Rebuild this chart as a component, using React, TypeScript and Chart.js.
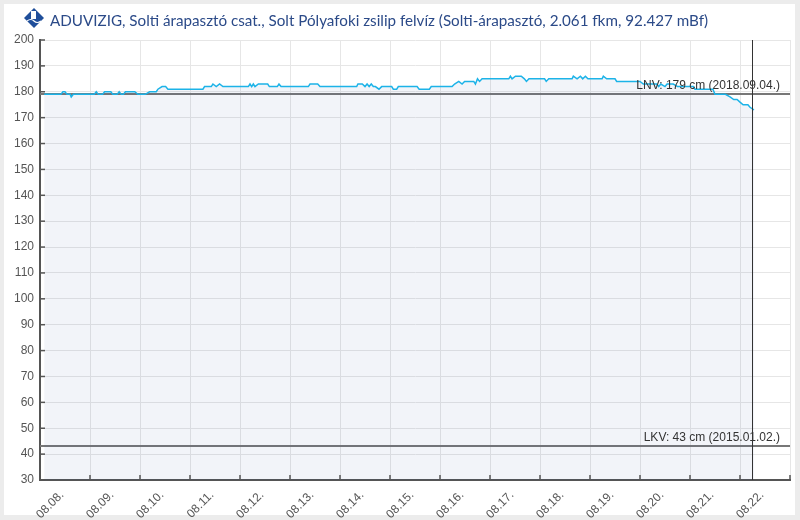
import React, { useEffect, useRef } from 'react';
import { Chart, registerables } from 'chart.js';

Chart.register(...registerables);

const TITLE =
  'ADUVIZIG, Solti árapasztó csat., Solt Pólyafoki zsilip felvíz (Solti-árapasztó, 2.061 fkm, 92.427 mBf)';

const dayLabels = [
  '08.08.', '08.09.', '08.10.', '08.11.', '08.12.', '08.13.', '08.14.', '08.15.',
  '08.16.', '08.17.', '08.18.', '08.19.', '08.20.', '08.21.', '08.22.',
];

// hours since 08.08. 00:00
const hours = [
  2, 10, 11, 12, 13, 14.5, 15, 16, 26, 27, 28, 30, 31, 34, 35, 37, 38, 39, 40, 41,
  45.5, 47, 50.5, 52.6, 55.8, 56.6, 58.6, 60.3, 61.4, 78.2, 79, 82.2, 83, 84.6, 86.2, 87.8,
  100, 100.8, 101.6, 102.4, 103.2, 104.8, 109.3, 110.1, 113.9, 114.7, 115.7, 128.8, 129.6,
  133.3, 134.4, 152, 152.6, 154.7, 156, 157, 158, 159, 160, 161, 162.7, 164, 168.8, 169.6,
  171.2, 172, 181, 182, 186.9, 187.8, 197.8, 199, 201, 202.6, 203.8, 208.2, 209, 210, 211,
  212.2, 225, 225.8, 226.6, 228.2, 231, 232.5, 233.5, 234.7, 242.2, 243, 244.2, 255.4, 256,
  257.8, 259.4, 260.5, 261.8, 263, 269.8, 270.4, 272, 276, 276.8, 288, 289.6, 296, 297, 298,
  300, 301, 304, 306, 313.6, 314.4, 323, 324, 329, 331.2, 333, 334.6, 336, 337.5, 339.8,
  340.8, 342.7,
];

const levels = [
  179, 179, 180, 180, 179, 179, 178, 179, 179, 180, 179, 179, 180, 180, 179, 179, 180, 179, 179, 180,
  180, 179, 179, 180, 180, 181, 182, 182, 181, 181, 182, 182, 183, 182, 183, 182,
  182, 183, 182, 183, 182, 183, 183, 182, 182, 183, 182, 182, 183,
  183, 182, 182, 183, 183, 182, 183, 182, 183, 182, 182, 181, 182, 182, 181,
  181, 182, 182, 181, 181, 182, 182, 183, 184, 183, 184, 184, 183, 185, 184,
  185, 185, 186, 185, 186, 186, 185, 184, 185, 185, 184, 185, 185, 186,
  185, 186, 185, 186, 185, 185, 186, 185, 185, 184, 184, 183, 183, 182, 183,
  182, 183, 183, 182, 182, 181, 181, 179, 179, 178, 177, 177, 176, 175, 175,
  174, 173,
];

const yMin = 30;
const yMax = 200;
const yStep = 10;
const xMax = 360;
const xStep = 24;
const nowHour = 341.6;

const plotLineValues = [179, 43];
const plotLineLabels = ['LNV: 179 cm (2018.09.04.)', 'LKV: 43 cm (2015.01.02.)'];

const TICK_FONT = '"Liberation Sans", Arial, sans-serif';

const decorPlugin = {
  id: 'decor',
  beforeDatasetsDraw(chart: any) {
    const { ctx, chartArea, scales } = chart;
    const { left, right } = chartArea;
    ctx.save();
    ctx.strokeStyle = '#777777';
    ctx.lineWidth = 2;
    plotLineValues.forEach((v) => {
      const py = Math.round(scales.y.getPixelForValue(v));
      ctx.beginPath();
      ctx.moveTo(left, py);
      ctx.lineTo(right, py);
      ctx.stroke();
    });
    ctx.restore();
  },
  afterDatasetsDraw(chart: any) {
    const { ctx, chartArea, scales } = chart;
    const { left, right, top, bottom } = chartArea;
    ctx.save();
    // plot line labels
    ctx.font = `12px ${TICK_FONT}`;
    ctx.fillStyle = '#333333';
    ctx.textAlign = 'right';
    ctx.textBaseline = 'alphabetic';
    plotLineValues.forEach((v, i) => {
      const py = scales.y.getPixelForValue(v);
      ctx.fillText(plotLineLabels[i], right - 10, py - 5);
    });
    // now line
    const nx = Math.round(scales.x.getPixelForValue(nowHour)) + 0.5;
    ctx.strokeStyle = '#333333';
    ctx.lineWidth = 1;
    ctx.beginPath();
    ctx.moveTo(nx, top);
    ctx.lineTo(nx, bottom);
    ctx.stroke();
    // inner ticks
    ctx.strokeStyle = '#555555';
    ctx.lineWidth = 1.5;
    scales.y.ticks.forEach((t: any) => {
      const py = scales.y.getPixelForValue(t.value);
      ctx.beginPath();
      ctx.moveTo(left, py);
      ctx.lineTo(left + 5, py);
      ctx.stroke();
    });
    scales.x.ticks.forEach((t: any) => {
      const px = scales.x.getPixelForValue(t.value);
      ctx.beginPath();
      ctx.moveTo(px, bottom);
      ctx.lineTo(px, bottom - 5);
      ctx.stroke();
    });
    // title icon
    ctx.fillStyle = '#1f4e9a';
    ctx.beginPath();
    ctx.moveTo(34, 8);
    ctx.lineTo(44, 18);
    ctx.lineTo(34, 28);
    ctx.lineTo(24, 18);
    ctx.closePath();
    ctx.fill();
    ctx.fillStyle = '#ffffff';
    ctx.fillRect(31, 11, 5, 8);
    ctx.strokeStyle = '#ffffff';
    ctx.lineWidth = 1.2;
    ctx.beginPath();
    ctx.moveTo(27, 21);
    ctx.quadraticCurveTo(31, 18, 34, 21);
    ctx.quadraticCurveTo(37, 24, 41, 21);
    ctx.stroke();
    // title
    ctx.font = '15.2px Lato, "Open Sans", sans-serif';
    ctx.fillStyle = '#2b4a88';
    ctx.textAlign = 'left';
    ctx.fillText(TITLE, 50, 26);
    ctx.restore();
  },
};

export default function App() {
  const ref = useRef<HTMLCanvasElement>(null);

  useEffect(() => {
    if (!ref.current) return;
    const data = hours.map((h, i) => ({ x: h, y: levels[i] }));
    const chart = new Chart(ref.current, {
      type: 'line',
      data: {
        datasets: [
          {
            data,
            borderColor: '#1cb3e8',
            borderWidth: 1.5,
            backgroundColor: 'rgba(40,60,150,0.06)',
            fill: 'start',
            pointRadius: 0,
            tension: 0,
          },
        ],
      },
      options: {
        animation: false,
        responsive: false,
        devicePixelRatio: 1,
        layout: { padding: { top: 40, right: 10, left: 0, bottom: 0 } },
        plugins: {
          legend: { display: false },
          tooltip: { enabled: false },
          title: { display: false },
        },
        scales: {
          x: {
            type: 'linear',
            min: 0,
            max: xMax,
            grid: { color: '#e6e6e6', drawTicks: false },
            border: { color: '#555555', width: 2 },
            ticks: {
              stepSize: xStep,
              autoSkip: false,
              minRotation: 45,
              maxRotation: 45,
              labelOffset: 22,
              padding: 8,
              color: '#555555',
              font: { size: 12, family: TICK_FONT },
              callback: (_v: any, i: number) => dayLabels[i] ?? '',
            },
            afterFit: (s: any) => {
              s.height = 40;
              s.paddingLeft = 0;
              s.paddingRight = 0;
            },
          },
          y: {
            min: yMin,
            max: yMax,
            grid: { color: '#e6e6e6', drawTicks: false },
            border: { color: '#555555', width: 2 },
            ticks: {
              stepSize: yStep,
              padding: 6,
              color: '#555555',
              font: { size: 12, family: TICK_FONT },
            },
            afterFit: (s: any) => {
              s.width = 40;
              s.paddingTop = 0;
              s.paddingBottom = 0;
            },
          },
        },
      },
      plugins: [decorPlugin],
    } as any);
    return () => chart.destroy();
  }, []);

  return (
    <div
      style={{
        position: 'fixed',
        left: 0,
        top: 0,
        width: 800,
        height: 520,
        background: '#ececec',
      }}
    >
      <div
        style={{
          position: 'absolute',
          left: 4,
          top: 4,
          width: 791,
          height: 511,
          background: '#ffffff',
        }}
      />
      <canvas
        ref={ref}
        width={800}
        height={520}
        style={{ position: 'absolute', left: 0, top: 0, width: 800, height: 520 }}
      />
    </div>
  );
}
